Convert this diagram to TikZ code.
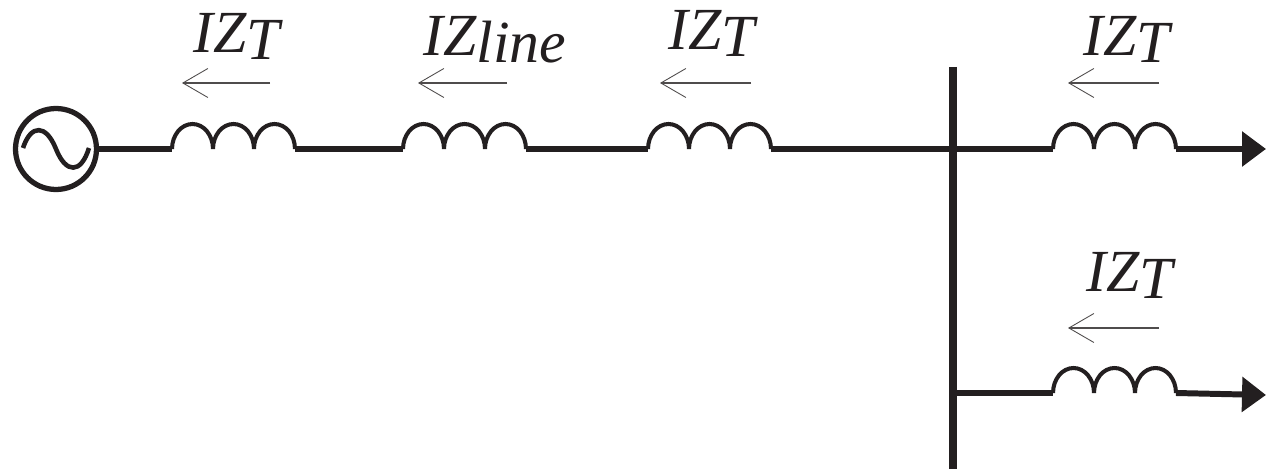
\documentclass[tikz,border=0pt]{standalone}
\usepackage{fontspec}
\setmainfont{Liberation Serif}
\usetikzlibrary{arrows.meta}
\definecolor{wireblack}{HTML}{231F20}
\newcommand{\IZ}[1]{\fontsize{34}{37}\selectfont\itshape IZ\raisebox{-0.14cm}{#1}}
\tikzset{
  wire/.style={line width=3.4pt,wireblack},
  coilwire/.style={line width=2.3pt,wireblack},
  bus/.style={line width=4.6pt,wireblack},
  flow/.style={line width=0.7pt,wireblack!80,-{Straight Barb[length=0.5cm,width=0.58cm,line width=0.5pt]}},
  load/.style={-{Triangle[length=0.48cm,width=0.68cm]}},
  label/.style={anchor=base west,inner sep=0pt,wireblack}
}
\begin{document}
\begin{tikzpicture}[x=0.02cm,y=-0.02cm]
    \useasboundingbox (0,0) rectangle (1266,469);
    % source
    \node (src) at (56,149) [draw=wireblack,circle,line width=3pt,minimum size=1.62cm,inner sep=0pt] {};
    \draw [coilwire,line width=2.6pt]
      (23,148) .. controls (31,124) and (46,124) .. (56,149)
      .. controls (66,174) and (81,174) .. (89,148);
    % coils
    \foreach \coilname/\xa/\ya in {one/172/149,two/403/149,three/648/149,four/1053/149,five/1053/393} {
      \coordinate (\coilname-in) at (\xa,\ya);
      \draw [coilwire] (\coilname-in)
        arc [start angle=180,end angle=0,x radius=0.41cm,y radius=0.5cm]
        arc [start angle=180,end angle=0,x radius=0.41cm,y radius=0.5cm]
        arc [start angle=180,end angle=0,x radius=0.41cm,y radius=0.5cm]
        coordinate (\coilname-out);
    }
    % bus
    \coordinate (bustop) at (953,67);
    \coordinate (busbot) at (953,469);
    \coordinate (busin) at (953,149);
    \coordinate (bustap) at (953,393);
    \draw [bus] (bustop) -- (busbot);
    % wires
    \draw [wire] (src.east) -- (one-in);
    \draw [wire] (one-out) -- (two-in);
    \draw [wire] (two-out) -- (three-in);
    \draw [wire] (three-out) -- (busin) -- (four-in);
    \draw [wire] (bustap) -- (five-in);
    \coordinate (loadone) at (1266,149);
    \coordinate (loadtwo) at (1266,395);
    \draw [wire,load,line width=3.8pt] (four-out) -- (loadone);
    \draw [wire,load] (five-out) -- (loadtwo);
    % current arrows
    \foreach \flowname/\xa/\xb/\ya in {a/270/182/83,b/507/418/83,c/751/660/83,d/1159/1068/83,e/1159/1068/328} {
      \coordinate (\flowname-tail) at (\xa,\ya);
      \coordinate (\flowname-tip) at (\xb,\ya);
      \draw [flow] (\flowname-tail) -- (\flowname-tip);
    }
    % labels
    \node (labone) at (193,53) [label] {\IZ{T}};
    \node (labtwo) at (423,56) [label] {\IZ{line}};
    \node (labthree) at (668,50) [label] {\IZ{T}};
    \node (labfour) at (1083,56) [label] {\IZ{T}};
    \node (labfive) at (1086,292) [label] {\IZ{T}};
  \end{tikzpicture}
\end{document}
